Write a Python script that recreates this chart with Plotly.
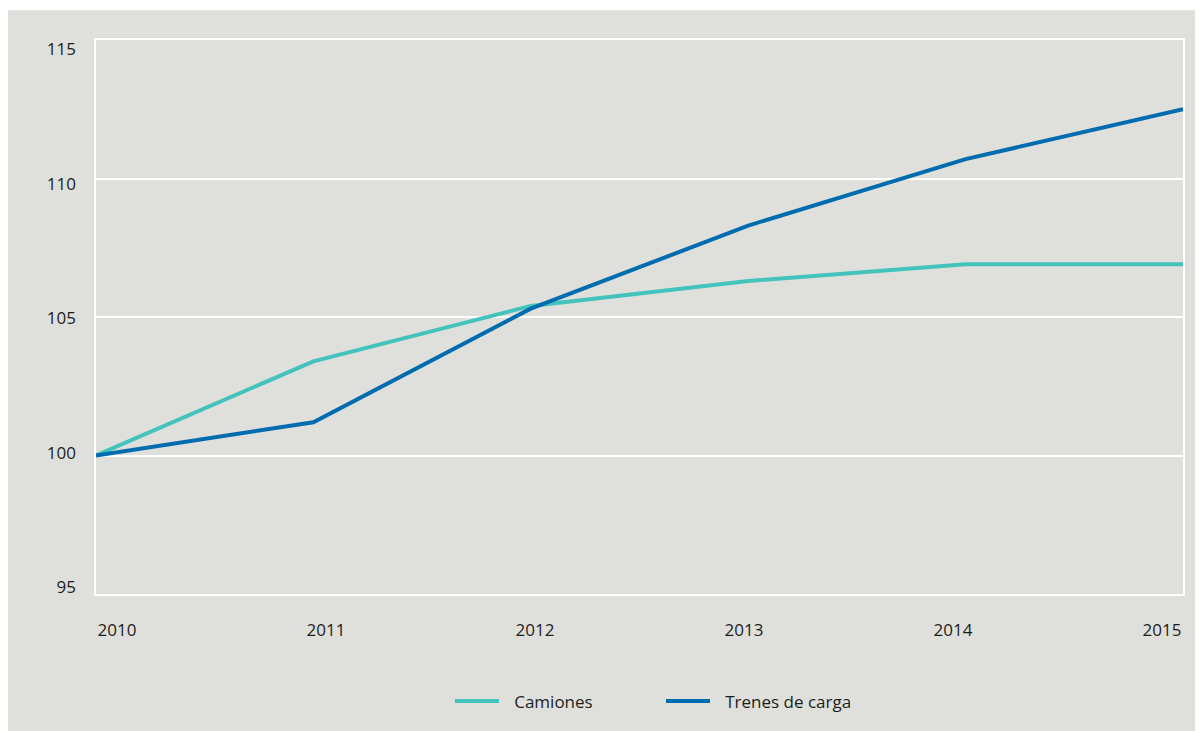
import plotly.graph_objects as go

years = [2010, 2011, 2012, 2013, 2014, 2015]
camiones = [100.0, 103.4, 105.4, 106.3, 106.9, 106.9]
trenes = [100.0, 101.2, 105.3, 108.3, 110.7, 112.5]
series_names = ["Camiones", "Trenes de carga"]
y_ticks = [95, 100, 105, 110, 115]

# the page adds an 8px body margin, so the figure starts at (8, 8)
W, H = 1195, 723
ML, MR, MT, MB = 88, 20, 32, 134
PW, PH = W - ML - MR, H - MT - MB

BG = "#dfe0dc"
TEAL = "#43c3bb"
BLUE = "#006cb0"
TXT = "#1d1d1b"
FONT = "Open Sans"
GAP = "\u2002\u200a"  # spacing between legend swatch and its label

def px_x(px):
    return (px - ML) / PW

def px_y(py):
    return (H - MB - py) / PH

nx, ny = len(years), len(y_ticks)

fig = go.Figure()
fig.add_trace(go.Scatter(x=years, y=camiones, mode="lines", name=GAP + series_names[0],
                         line=dict(color=TEAL, width=4)))
fig.add_trace(go.Scatter(x=years, y=trenes, mode="lines", name=GAP + series_names[1],
                         line=dict(color=BLUE, width=4)))
# invisible helper trace for the evenly spread (inset) label axes
fig.add_trace(go.Scatter(x=[0, nx - 1], y=[0, ny - 1], xaxis="x2", yaxis="y2",
                         mode="markers", marker=dict(opacity=0), showlegend=False,
                         hoverinfo="skip"))

fig.update_layout(
    width=W, height=H,
    margin=dict(l=ML, r=MR, t=MT, b=MB, pad=0),
    paper_bgcolor=BG, plot_bgcolor=BG,
    font=dict(family=FONT, size=17, color=TXT),
    xaxis=dict(range=[years[0], years[-1]], showgrid=False, showticklabels=False,
               ticks="", showline=True, mirror=True, linecolor="white", linewidth=2,
               zeroline=False),
    yaxis=dict(range=[y_ticks[0], y_ticks[-1]], tickvals=y_ticks, showgrid=True,
               gridcolor="white", gridwidth=2, ticks="", showticklabels=False,
               showline=True, mirror=True, linecolor="white", linewidth=2,
               zeroline=False),
    xaxis2=dict(overlaying="x", side="bottom", anchor="y",
                range=[-0.1005, nx - 1 + 0.1005],
                tickvals=list(range(nx)), ticktext=[str(y) for y in years],
                showgrid=False, zeroline=False, showline=False, ticks="",
                ticklabelstandoff=24, tickfont=dict(size=17, color=TXT)),
    yaxis2=dict(overlaying="y", side="left", anchor="x",
                range=[-0.0518, ny - 1 + 0.0703],
                tickvals=list(range(ny)), ticktext=[str(v) for v in y_ticks],
                showgrid=False, zeroline=False, showline=False, ticks="",
                ticklabelstandoff=19, tickfont=dict(size=17, color=TXT)),
    legend=dict(orientation="h", x=px_x(442), xanchor="left", y=px_y(697),
                yanchor="middle", bgcolor="rgba(0,0,0,0)",
                font=dict(size=17, color=TXT), entrywidth=152, itemwidth=44),
    showlegend=True,
    shapes=[
        dict(type="rect", xref="paper", yref="paper", layer="below",
             x0=px_x(-5), x1=px_x(W + 5), y0=px_y(2), y1=px_y(-5),
             fillcolor="white", line=dict(width=0)),
    ],
)

fig.write_html("out.html")
